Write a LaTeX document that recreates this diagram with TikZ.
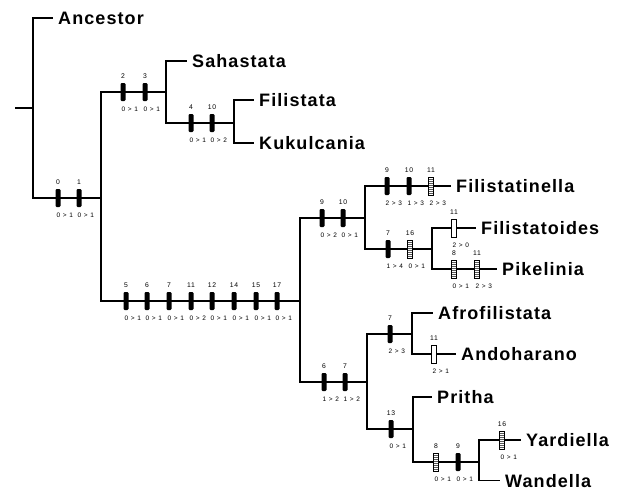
\documentclass[tikz,border=0pt]{standalone}
\usepackage{fontspec}
\newfontfamily\taxfont{Liberation Sans}[LetterSpace=6]
\newfontfamily\chfont{Liberation Sans}[LetterSpace=12]

\tikzset{
  branch/.style={line width=1.2pt},
  taxon/.style={anchor=west, inner xsep=5pt, inner ysep=0pt,
    text height=13.5pt, text depth=0pt,
    font=\taxfont\bfseries\fontsize{18}{20}\selectfont},
  synbar/.style={rectangle, fill=black, rounded corners=1.2pt,
    minimum width=5pt, minimum height=18pt, inner sep=0pt},
  openbar/.style={rectangle, draw=black, line width=0.6pt, fill=white,
    minimum width=4.5pt, minimum height=18pt, inner sep=0pt},
  hatchbar/.style={rectangle, draw=black, line width=0.6pt, fill=white,
    minimum width=4.5pt, minimum height=18pt, inner sep=0pt,
    path picture={\foreach \k in {-7,-5,...,7}{
      \draw[line width=0.8pt, black!65]
        ([yshift=\k pt]path picture bounding box.west) --
        ([yshift=\k pt]path picture bounding box.east);}}},
  chnum/.style={inner sep=0pt, font=\chfont\fontsize{6.8}{7}\selectfont},
  chstate/.style={anchor=west, inner sep=0pt, font=\chfont\fontsize{6.5}{7}\selectfont},
}

% character-state change on a branch: name, bar style, x, y, character, transition
\newcommand\chmark[6]{%
  \node[#2] (#1) at (#3,#4) {};
  \node[chnum] (#1n) at (#3,#4-15.5) {#5};
  \node[chstate] (#1s) at (#3-1.5,#4+17.5) {#6};
}

\begin{document}
\begin{tikzpicture}[x=1pt, y=-1pt]
\useasboundingbox (0,0) rectangle (622,491);

% internal nodes of the cladogram
\coordinate (stub) at (15,108);
\coordinate (r) at (33,108);
\coordinate (b) at (101,198);
\coordinate (c) at (166,92);
\coordinate (d) at (234,123);
\coordinate (e) at (300,301);
\coordinate (f) at (365,218);
\coordinate (g) at (432,249);
\coordinate (h) at (367,382);
\coordinate (i) at (412,334);
\coordinate (j) at (413,429);
\coordinate (k) at (479,462);

% terminal taxa
\node[taxon] (ancestor) at (53,18) {Ancestor};
\node[taxon] (sahastata) at (187,61) {Sahastata};
\node[taxon] (filistata) at (254,100) {Filistata};
\node[taxon] (kukulcania) at (254,143) {Kukulcania};
\node[taxon] (filistatinella) at (451,186) {Filistatinella};
\node[taxon] (filistatoides) at (476,228) {Filistatoides};
\node[taxon] (pikelinia) at (497,269) {Pikelinia};
\node[taxon] (afrofilistata) at (433,313) {Afrofilistata};
\node[taxon] (andoharano) at (456,354) {Andoharano};
\node[taxon] (pritha) at (432,397) {Pritha};
\node[taxon] (yardiella) at (521,440) {Yardiella};
\node[taxon] (wandella) at (500,480.5) {Wandella};

% branches
\draw[branch] (stub) -- (r);
\draw[branch] (r) |- (ancestor);
\draw[branch] (r) |- (b);
\draw[branch] (b) |- (c);
\draw[branch] (b) |- (e);
\draw[branch] (c) |- (sahastata);
\draw[branch] (c) |- (d);
\draw[branch] (d) |- (filistata);
\draw[branch] (d) |- (kukulcania);
\draw[branch] (e) |- (f);
\draw[branch] (e) |- (h);
\draw[branch] (f) |- (filistatinella);
\draw[branch] (f) |- (g);
\draw[branch] (g) |- (filistatoides);
\draw[branch] (g) |- (pikelinia);
\draw[branch] (h) |- (i);
\draw[branch] (h) |- (j);
\draw[branch] (i) |- (afrofilistata);
\draw[branch] (i) |- (andoharano);
\draw[branch] (j) |- (pritha);
\draw[branch] (j) |- (k);
\draw[branch] (k) |- (yardiella);
\draw[branch] (k) |- (wandella);

% character changes
\chmark{rA}{synbar}{58}{198}{0}{0 > 1}
\chmark{rB}{synbar}{79}{198}{1}{0 > 1}

\chmark{cA}{synbar}{123}{92}{2}{0 > 1}
\chmark{cB}{synbar}{145}{92}{3}{0 > 1}

\chmark{dA}{synbar}{191}{123}{4}{0 > 1}
\chmark{dB}{synbar}{212}{123}{10}{0 > 2}

\chmark{eA}{synbar}{126}{301}{5}{0 > 1}
\chmark{eB}{synbar}{147}{301}{6}{0 > 1}
\chmark{eC}{synbar}{169}{301}{7}{0 > 1}
\chmark{eD}{synbar}{191}{301}{11}{0 > 2}
\chmark{eE}{synbar}{212}{301}{12}{0 > 1}
\chmark{eF}{synbar}{234}{301}{14}{0 > 1}
\chmark{eG}{synbar}{256}{301}{15}{0 > 1}
\chmark{eH}{synbar}{277}{301}{17}{0 > 1}

\chmark{fA}{synbar}{322}{218}{9}{0 > 2}
\chmark{fB}{synbar}{343}{218}{10}{0 > 1}

\chmark{tnA}{synbar}{387}{186}{9}{2 > 3}
\chmark{tnB}{synbar}{409}{186}{10}{1 > 3}
\chmark{tnC}{hatchbar}{431}{186}{11}{2 > 3}

\chmark{gA}{synbar}{388}{249}{7}{1 > 4}
\chmark{gB}{hatchbar}{410}{249}{16}{0 > 1}

\chmark{toA}{openbar}{454}{228}{11}{2 > 0}

\chmark{pkA}{hatchbar}{454}{269}{8}{0 > 1}
\chmark{pkB}{hatchbar}{477}{269}{11}{2 > 3}

\chmark{hA}{synbar}{324}{382}{6}{1 > 2}
\chmark{hB}{synbar}{345}{382}{7}{1 > 2}

\chmark{iA}{synbar}{390}{334}{7}{2 > 3}

\chmark{anA}{openbar}{434}{354}{11}{2 > 1}

\chmark{jA}{synbar}{391}{429}{13}{0 > 1}

\chmark{kA}{hatchbar}{436}{462}{8}{0 > 1}
\chmark{kB}{synbar}{458}{462}{9}{0 > 1}

\chmark{yaA}{hatchbar}{502}{440}{16}{0 > 1}
\end{tikzpicture}
\end{document}
